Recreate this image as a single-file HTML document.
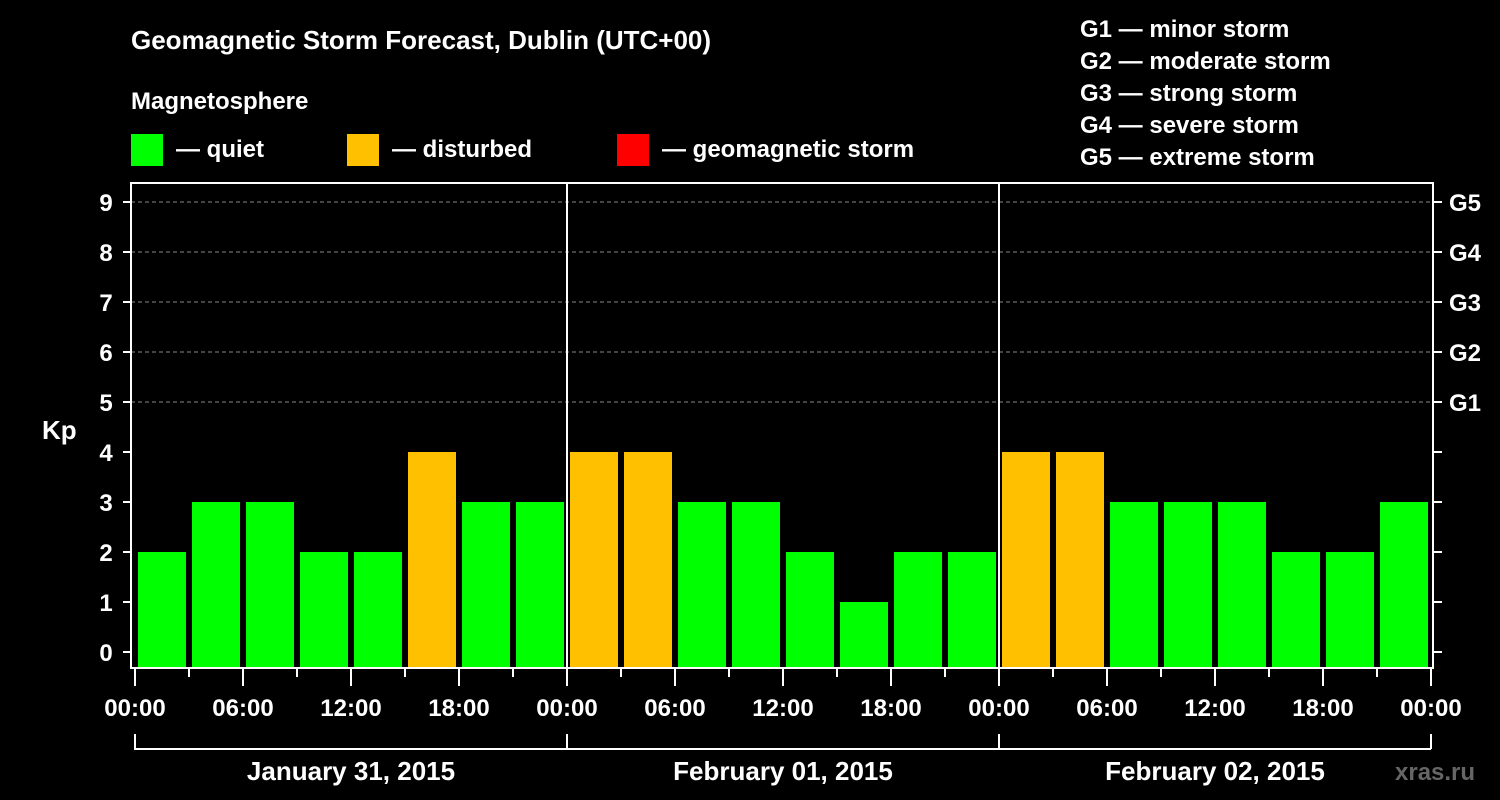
<!DOCTYPE html>
<html><head><meta charset="utf-8"><style>
body{margin:0;background:#000;}
svg{display:block;font-family:"Liberation Sans",Arial,sans-serif;font-weight:bold;}
</style></head><body>
<svg id="chart" width="1500" height="800" viewBox="0 0 1500 800">
<rect x="0" y="0" width="1500" height="800" fill="#000"/>
<text x="131" y="49" font-size="26" fill="#fff">Geomagnetic Storm Forecast, Dublin (UTC+00)</text>
<text x="131" y="109" font-size="24" fill="#fff">Magnetosphere</text>
<g><rect x="131" y="134" width="32" height="32" fill="#00ff00"/><text x="176" y="157" font-size="24" fill="#fff">— quiet</text></g>
<g><rect x="347" y="134" width="32" height="32" fill="#ffc000"/><text x="392" y="157" font-size="24" fill="#fff">— disturbed</text></g>
<g><rect x="617" y="134" width="32" height="32" fill="#ff0000"/><text x="662" y="157" font-size="24" fill="#fff">— geomagnetic storm</text></g>
<g font-size="24" fill="#fff">
<text x="1080" y="37">G1 — minor storm</text>
<text x="1080" y="69">G2 — moderate storm</text>
<text x="1080" y="101">G3 — strong storm</text>
<text x="1080" y="133">G4 — severe storm</text>
<text x="1080" y="165">G5 — extreme storm</text>
</g>
<text x="42" y="439" font-size="26" fill="#fff">Kp</text>
<g id="grid"></g><g id="bars"></g><g id="axes"></g>
<text x="1395" y="780" font-size="24" fill="#666">xras.ru</text>
</svg>
<script>
const values=[2,3,3,2,2,4,3,3, 4,4,3,3,2,1,2,2, 4,4,3,3,3,2,2,3];
const dates=["January 31, 2015","February 01, 2015","February 02, 2015"];
const hourLabels=["00:00","06:00","12:00","18:00"];
const yTicks=[0,1,2,3,4,5,6,7,8,9];
const gLabels=["G1","G2","G3","G4","G5"];
const NS="http://www.w3.org/2000/svg";
const x0=135,dayW=432,slot=54;
const X=h=>x0+h/72*dayW*3; // h in hours from start
const Y=v=>652-v*50;
function mk(t,a,p){const e=document.createElementNS(NS,t);for(const k in a)e.setAttribute(k,a[k]);p.appendChild(e);return e;}
const grid=document.getElementById('grid'),bars=document.getElementById('bars'),axes=document.getElementById('axes');
for(let v=5;v<=9;v++){const l=mk('line',{x1:131,x2:1433,y1:Y(v),y2:Y(v),stroke:'#888','stroke-dasharray':'4,3'},grid);

}
values.forEach((v,i)=>{const x=X(i*3)+3;const col=v>=5?'#ff0000':(v>=4?'#ffc000':'#00ff00');
const r=mk('rect',{x:x,y:Y(v),width:48,height:668-Y(v),fill:col},bars);

});
const fr=mk('rect',{x:131,y:183,width:1302,height:485,fill:'none',stroke:'#fff','stroke-width':2},axes);


[1,2].forEach(d=>{const l=mk('line',{x1:X(d*24),x2:X(d*24),y1:183,y2:668,stroke:'#fff','stroke-width':2},axes);

});
yTicks.forEach(v=>{mk('line',{x1:123,x2:131,y1:Y(v),y2:Y(v),stroke:'#fff','stroke-width':2},axes);
mk('line',{x1:1433,x2:1442,y1:Y(v),y2:Y(v),stroke:'#fff','stroke-width':2},axes);
const t=mk('text',{x:106,y:Y(v)+9,'font-size':24,fill:'#fff','text-anchor':'middle'},axes);t.textContent=v;

});
gLabels.forEach((g,i)=>{const t=mk('text',{x:1449,y:Y(5+i)+9,'font-size':24,fill:'#fff'},axes);t.textContent=g;

});
for(let h=0;h<=72;h+=3){const major=h%6===0;mk('line',{x1:X(h),x2:X(h),y1:668,y2:major?686:677,stroke:'#fff','stroke-width':2},axes);
if(major){const t=mk('text',{x:X(h),y:716,'font-size':24,fill:'#fff','text-anchor':'middle'},axes);t.textContent=h===72?hourLabels[0]:hourLabels[(h%24)/6];

}}
dates.forEach((d,i)=>{const a=X(i*24),b=X(i*24+24);
mk('path',{d:`M${a} 734V749H${b}`+(i===2?`M${b} 734V749`:''),stroke:'#fff','stroke-width':2,fill:'none'},axes);
const t=mk('text',{x:(a+b)/2,y:780,'font-size':26,fill:'#fff','text-anchor':'middle'},axes);t.textContent=d;

});
</script>
</body></html>
